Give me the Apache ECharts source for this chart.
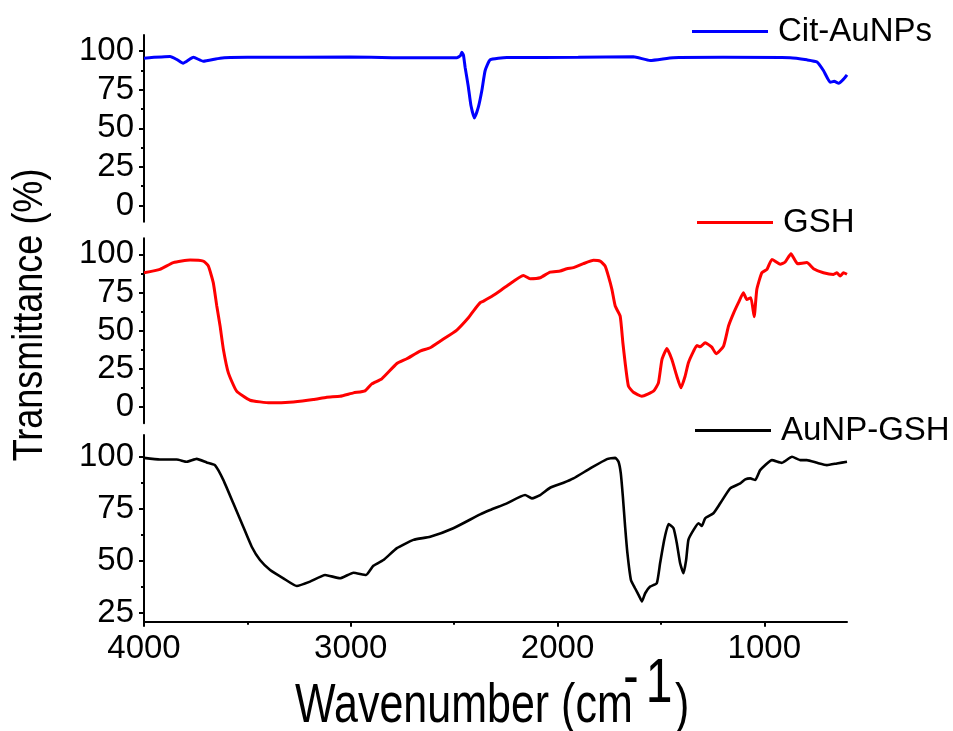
<!DOCTYPE html>
<html><head><meta charset="utf-8">
<script src="https://cdn.jsdelivr.net/npm/echarts@6/dist/echarts.min.js"></script>
<style>html,body{margin:0;padding:0;background:#fff}#c{width:953px;height:731px}</style>
</head><body><div id="c"></div>
<script>
// ---- data ----
const citWn = [4000,3874,3840,3811,3761,3713,3632,3500,3003,2800,2487,2470,2463,2455,2447,2432,2419,2402,2383,2366,2350,2326,2245,1900,1633,1552,1441,1200,875,794,745,714,681,662,640,616,600];
const citT  = [95.5,96.5,94.5,92.2,96,93.5,95.5,96,96.2,95.8,95.8,97,99.4,97.5,89.6,77.5,65,56.7,63.7,74.5,87.5,94.4,95.9,96,96.4,94,95.8,96,95.8,94.4,93,87.5,79.9,80.5,79.2,82,84.7];

const gshWn = [4000,3923,3858,3777,3713,3689,3665,3648,3632,3616,3592,3552,3487,3390,3278,3181,3116,3052,2987,2931,2898,2850,2777,2729,2665,2616,2568,2487,2431,2407,2374,2358,2310,2245,2165,2133,2084,2036,1987,1955,1923,1875,1826,1794,1770,1754,1737,1721,1697,1684,1673,1657,1633,1592,1536,1512,1495,1471,1447,1423,1403,1383,1367,1342,1326,1310,1286,1254,1233,1197,1173,1149,1125,1101,1085,1065,1049,1036,1012,987,963,923,899,871,839,794,762,714,665,649,633,617,600];
const gshT  = [88.0,90.2,94.6,96.3,95.6,92.4,81.5,66.2,53.1,37.8,22.5,10.5,4.6,2.9,3.5,5.0,6.6,7.2,9.4,10.7,15.3,18.6,28.6,31.7,36.7,38.9,43.2,50.5,58.5,62.9,68.4,69.4,73.2,79.3,86.2,84.1,84.7,88.4,89.1,90.6,91.3,93.9,96.1,95.6,92.4,85.8,77.1,66.2,59.6,42.2,29.1,13.8,9.8,7.2,10.5,16.0,31.2,38.4,31.2,20.3,12.7,20.3,29.1,36.7,40.4,39.5,42.2,39.3,35.0,40.0,53.1,61.4,68.4,74.9,70.5,71.6,59.2,77.1,88.0,90.2,96.7,93.5,95.0,100.4,93.9,94.6,90.6,88.0,86.9,88.0,85.8,88,87];

const auWn = [4000,3923,3842,3793,3745,3697,3657,3616,3568,3520,3479,3439,3390,3326,3261,3197,3124,3052,2987,2926,2891,2842,2777,2697,2616,2504,2374,2326,2245,2157,2124,2084,2036,1971,1923,1842,1761,1721,1705,1694,1684,1673,1662,1645,1625,1604,1592,1576,1552,1520,1504,1484,1463,1439,1423,1407,1391,1378,1367,1342,1318,1302,1286,1246,1213,1165,1116,1092,1068,1044,1020,963,915,866,826,794,745,697,649,600];
const auT  = [99.5,98.7,98.7,97.6,99.0,97.3,96.0,88.8,77.6,66.3,56.7,50.3,45.5,41.5,37.8,39.9,43.1,41.5,44.2,43.1,47.5,50.3,56.0,60.0,61.5,65.6,72.3,74.4,77.6,81.6,80.0,81.6,85.1,87.5,89.6,94.4,98.9,99.5,97.6,92.0,80.8,66.3,53.6,40.7,36.7,32.7,30.3,34.3,37.5,39.1,48.7,60.0,67.6,65.6,58.4,48.7,43.9,50.3,60.0,64.8,68.0,66.7,70.4,72.8,77.6,84.8,87.2,89.1,89.6,88.8,93.6,98.4,97.1,100,98.4,98.4,97.1,96.0,96.8,97.6];

const xTicks = [4000,3000,2000,1000];
const xMinorTicks = [3500,2500,1500];
const yTicksFull = [0,25,50,75,100];
const yMinorFull = [12.5,37.5,62.5,87.5];
const yTicksLow = [25,50,75,100];
const yMinorLow = [37.5,62.5,87.5];
const seriesNames = ['Cit-AuNPs','GSH','AuNP-GSH'];

// ---- chart ----
const FONT = '"Liberation Sans", Arial, sans-serif';
const zip = (a,b) => a.map((v,i)=>[v,b[i]]);
const fmt = v => String(v);
const chart = echarts.init(document.getElementById('c'), null, {renderer:'canvas'});

const grids = [
  {left:144, right:106, top:35, height:186.7},
  {left:144, right:106, top:238.3, height:185},
  {left:144, right:106, top:435, height:186.7}
];
const yRanges = [[-10.5,110.5],[-10.5,110.5],[20.6,110.5]];

const xAxes = [0,1].map(i=>({type:'value', gridIndex:i, min:600, max:4000, inverse:true, show:false}));
xAxes.push({type:'value', gridIndex:2, min:600, max:4000, inverse:true, position:'bottom',
  axisLine:{show:true, onZero:false, lineStyle:{color:'#000', width:2}},
  axisTick:{show:true, inside:false, length:5, lineStyle:{color:'#000', width:2}, customValues:xTicks},
  axisLabel:{show:true, customValues:xTicks, formatter:fmt, margin:11, color:'#000', fontSize:33, fontFamily:FONT},
  splitLine:{show:false}});
xAxes.push({type:'value', gridIndex:2, min:600, max:4000, inverse:true, position:'bottom',
  axisLine:{show:false}, axisLabel:{show:false}, splitLine:{show:false},
  axisTick:{show:true, length:3, lineStyle:{color:'#000', width:2}, customValues:xMinorTicks}});

const yAxes = [];
[0,1,2].forEach(i=>{
  const major = i===2 ? yTicksLow : yTicksFull;
  const minor = i===2 ? yMinorLow : yMinorFull;
  yAxes.push({type:'value', gridIndex:i, min:yRanges[i][0], max:yRanges[i][1], position:'left',
    axisLine:{show:true, onZero:false, lineStyle:{color:'#000', width:2}},
    axisTick:{show:true, length:5, lineStyle:{color:'#000', width:2}, customValues:major},
    axisLabel:{show:true, customValues:major, formatter:fmt, margin:10, color:'#000', fontSize:33, fontFamily:FONT},
    splitLine:{show:false}});
  yAxes.push({type:'value', gridIndex:i, min:yRanges[i][0], max:yRanges[i][1], position:'left',
    axisLine:{show:false}, axisLabel:{show:false}, splitLine:{show:false},
    axisTick:{show:true, length:3, lineStyle:{color:'#000', width:2}, customValues:minor}});
});

const colors = ['#0000ff','#ff0000','#000000'];
const datas = [zip(citWn,citT), zip(gshWn,gshT), zip(auWn,auT)];
const widths = [3,3,2.6];
const series = [0,1,2].map(i=>({
  name:seriesNames[i], type:'line', xAxisIndex:[0,1,2][i], yAxisIndex:[0,2,4][i],
  data:datas[i], showSymbol:false, symbol:'none', smooth:0.15, color:colors[i],
  lineStyle:{color:colors[i], width:widths[i]}, animation:false
}));

const legendPos = [[692,15],[697,206],[695,414]];
const legends = [0,1,2].map(i=>({
  data:[seriesNames[i]], left:legendPos[i][0], top:legendPos[i][1], padding:0,
  icon:'rect', itemWidth:76, itemHeight:3, selectedMode:false,
  textStyle:{color:'#000', fontSize:33, fontFamily:FONT, padding:[0,0,0,5]}
}));

chart.setOption({
  backgroundColor:'#fff',
  animation:false,
  grid:grids,
  xAxis:xAxes,
  yAxis:yAxes,
  legend:legends,
  series:series,
  graphic:[
    {type:'text', x:30, y:315, rotation:Math.PI/2, scaleY:1.2,
     style:{text:'Transmittance (%)', fill:'#000', font:'36px '+FONT, align:'center', verticalAlign:'middle'}},
    {type:'text', x:295, y:707, scaleY:1.3,
     style:{text:'Wavenumber (cm', fill:'#000', font:'43px '+FONT, align:'left', verticalAlign:'middle'}},
    {type:'text', x:631, y:679, scaleY:1.3,
     style:{text:'-', fill:'#000', font:'46px '+FONT, align:'center', verticalAlign:'middle'}},
    {type:'text', x:659, y:685, scaleY:1.3,
     style:{text:'1', fill:'#000', font:'48px '+FONT, align:'center', verticalAlign:'middle'}},
    {type:'text', x:675, y:707, scaleY:1.3,
     style:{text:')', fill:'#000', font:'43px '+FONT, align:'left', verticalAlign:'middle'}}
  ]
});
</script></body></html>
